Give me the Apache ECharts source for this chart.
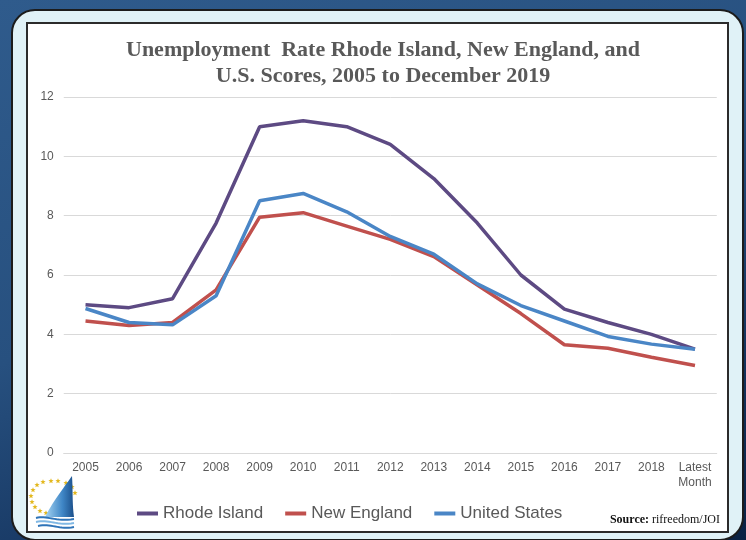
<!DOCTYPE html>
<html>
<head>
<meta charset="utf-8">
<script src="https://cdn.jsdelivr.net/npm/echarts@6/dist/echarts.min.js"></script>
<style>
  html, body { margin: 0; padding: 0; }
  #bg { position: absolute; left: 0; top: 0; width: 746px; height: 540px; overflow: hidden;
        background: linear-gradient(160deg, #2f5b8c 0%, #27507f 45%, #12305a 80%, #0b2244 100%); }
  #panel { position: absolute; left: 11px; top: 9px; width: 729px; height: 528px;
           border: 2px solid #1c1c1c; border-radius: 24px; background: #e0f2f7; }
  #box { position: absolute; left: 26px; top: 22px; width: 699px; height: 507px;
         border: 2px solid #2b2b2b; background: #ffffff; }
  #chart { position: absolute; left: 0; top: 0; width: 746px; height: 540px; }
</style>
</head>
<body>
<div id="bg"><div id="panel"></div><div id="box"></div></div>
<div id="chart"></div>
<script>
const categories = ['2005','2006','2007','2008','2009','2010','2011','2012','2013','2014','2015','2016','2017','2018','Latest\nMonth'];
const rhodeIsland = [5.0, 4.9, 5.2, 7.75, 11.0, 11.2, 11.0, 10.4, 9.25, 7.75, 6.0, 4.85, 4.4, 4.0, 3.5];
const newEngland  = [4.45, 4.3, 4.4, 5.5, 7.95, 8.1, 7.65, 7.2, 6.62, 5.66, 4.7, 3.65, 3.53, 3.23, 2.95];
const unitedStates = [4.87, 4.4, 4.32, 5.3, 8.5, 8.75, 8.13, 7.3, 6.7, 5.7, 4.97, 4.45, 3.93, 3.67, 3.5];
const seriesNames = ['Rhode Island', 'New England', 'United States'];
const titleLines = ['Unemployment  Rate Rhode Island, New England, and', 'U.S. Scores, 2005 to December 2019'];

// decorative logo (not data)
const starPos = [[33,490],[37,485],[43,482],[51,481],[58,481],[66,483],[72,487],[75,493],[31,496],[32,502],[35,507],[40,511],[46,513]];
function starPoints(cx, cy, R, r) {
  const pts = [];
  for (let i = 0; i < 10; i++) {
    const a = -Math.PI / 2 + i * Math.PI / 5;
    const rr = i % 2 === 0 ? R : r;
    pts.push([cx + rr * Math.cos(a), cy + rr * Math.sin(a)]);
  }
  return pts;
}
function bez(p0, p1, p2, p3, n) {
  const out = [];
  for (let i = 0; i <= n; i++) {
    const t = i / n, u = 1 - t;
    out.push([
      u*u*u*p0[0] + 3*u*u*t*p1[0] + 3*u*t*t*p2[0] + t*t*t*p3[0],
      u*u*u*p0[1] + 3*u*u*t*p1[1] + 3*u*t*t*p2[1] + t*t*t*p3[1]
    ]);
  }
  return out;
}
const logo = [];
starPos.forEach(p => logo.push({ type: 'polygon', shape: { points: starPoints(p[0], p[1], 2.8, 1.2) }, style: { fill: '#e3b81e' }, silent: true, z: 10 }));
const sailPts = bez([72,476],[62,490],[52,503],[45,517],20).concat([[74,517]]).concat(bez([74,517],[72,503],[73,490],[72,476],10));
logo.push({
  type: 'polygon',
  shape: { points: sailPts },
  style: { fill: { type: 'linear', x: 0, y: 0, x2: 1, y2: 0, colorStops: [{ offset: 0, color: '#a6d4f2' }, { offset: 0.6, color: '#3f86c6' }, { offset: 1, color: '#1b4f8a' }] } },
  silent: true, z: 10
});
const waves = [
  [[36,518],[46,515],[56,522],[74,519]],
  [[36,522],[48,519],[58,526],[74,523]],
  [[38,526],[50,523],[60,530],[74,527]]
];
waves.forEach((w, i) => logo.push({ type: 'polyline', shape: { points: bez(w[0], w[1], w[2], w[3], 16) }, style: { fill: null, stroke: i % 2 ? '#80b8e4' : '#2f74b8', lineWidth: 2 }, silent: true, z: 10 }));

const chart = echarts.init(document.getElementById('chart'));
chart.setOption({
  backgroundColor: 'transparent',
  animation: false,
  title: {
    text: titleLines.join('\n'),
    left: 378,
    top: 32,
    textAlign: 'center',
    textStyle: { fontFamily: 'Liberation Serif', fontWeight: 'bold', fontSize: 22, color: '#595959', lineHeight: 26 }
  },
  legend: {
    data: seriesNames,
    left: 137,
    top: 505,
    padding: 0,
    icon: 'rect',
    itemWidth: 21,
    itemHeight: 4,
    itemGap: 22,
    textStyle: { fontFamily: 'Liberation Sans', fontSize: 17, color: '#595959' }
  },
  grid: { left: 63.75, right: 29.25, top: 97, bottom: 87 },
  xAxis: {
    type: 'category',
    data: categories,
    boundaryGap: true,
    axisLine: { lineStyle: { color: '#d9d9d9', width: 1 } },
    axisTick: { show: false },
    axisLabel: { fontFamily: 'Liberation Sans', fontSize: 12, color: '#595959', margin: 7, lineHeight: 15, interval: 0 }
  },
  yAxis: {
    type: 'value',
    min: 0, max: 12, interval: 2,
    axisLine: { show: false },
    axisTick: { show: false },
    axisLabel: { fontFamily: 'Liberation Sans', fontSize: 12, color: '#595959', margin: 10 },
    splitLine: { lineStyle: { color: '#d9d9d9', width: 1 } }
  },
  series: [
    { name: seriesNames[0], type: 'line', data: rhodeIsland, symbol: 'none', lineStyle: { width: 3.5, color: '#5d4a83' }, itemStyle: { color: '#5d4a83' } },
    { name: seriesNames[1], type: 'line', data: newEngland, symbol: 'none', lineStyle: { width: 3.5, color: '#c0504d' }, itemStyle: { color: '#c0504d' } },
    { name: seriesNames[2], type: 'line', data: unitedStates, symbol: 'none', lineStyle: { width: 3.5, color: '#4a86c6' }, itemStyle: { color: '#4a86c6' } }
  ],
  graphic: [
    {
      type: 'text',
      right: 26,
      top: 514,
      style: {
        text: '{b|Source:} rifreedom/JOI',
        fontFamily: 'Liberation Serif',
        fontSize: 12,
        fill: '#111111',
        rich: { b: { fontFamily: 'Liberation Serif', fontWeight: 'bold', fontSize: 12, fill: '#111111' } }
      },
      silent: true
    }
  ].concat(logo)
});
</script>
</body>
</html>
